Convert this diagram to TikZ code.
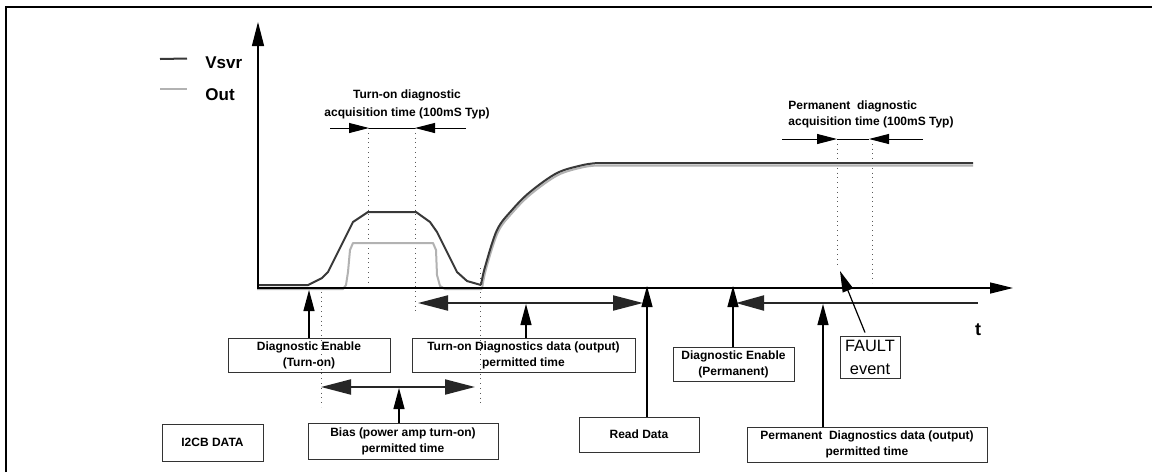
\documentclass[tikz,border=0pt]{standalone}
\usepackage{fontspec}
\setmainfont{Liberation Sans}
\usetikzlibrary{arrows.meta}
\begin{document}
\begin{tikzpicture}[x=0.5pt,y=-0.5pt,
  lbl/.style={font=\bfseries\fontsize{6}{9}\selectfont, align=center, inner sep=0},
  boxnode/.style={draw=black!80, line width=0.5pt, font=\bfseries\fontsize{6}{8}\selectfont, align=center, inner sep=0},
  faultbox/.style={draw=black!80, line width=0.5pt, font=\fontsize{8.2}{11.5}\selectfont, align=center, inner sep=0, minimum width=30pt, minimum height=21pt},
  legendtxt/.style={font=\bfseries\fontsize{8.5}{10}\selectfont, inner sep=0, anchor=west},
  axisline/.style={line width=0.65pt},
  vsvr/.style={draw=black!78, line width=1pt, line join=round},
  outw/.style={draw=black!30, line width=1pt, line join=round},
  guide/.style={draw=black!65, line width=0.4pt, dotted},
  dimline/.style={line width=0.5pt},
  dimtip/.style={dimline, -{Triangle[length=10pt,width=5pt]}},
  spanarr/.style={draw=black!85, line width=1pt},
  bigtip/.style={{Triangle[length=15pt,width=7.5pt]}-{Triangle[length=15pt,width=7.5pt]}},
  lefttip/.style={{Triangle[length=14pt,width=7.5pt]}-},
  uparr/.style={line width=0.6pt, -{Triangle[length=10.5pt,width=5.5pt]}}
]
\fill[white] (0,0) rectangle (1152,472);
\useasboundingbox (0,0) rectangle (1152,472);

% frame
\draw[line width=1.35pt] (6,472) -- (6,7) -- (1152,7);

% legend
\draw[vsvr] (160,59) -- (187,58.5);
\draw[outw] (160,89) -- (187,89);
\node[legendtxt] (lv) at (205,63) {Vsvr};
\node[legendtxt] (lo) at (205,95) {Out};

% guides (dotted)
\draw[guide] (321,287) -- (321,407);
\draw[guide] (368,128) -- (368,285);
\draw[guide] (415,128) -- (415,313);
\draw[guide] (480,268) -- (480,405);
\draw[guide] (837,139) -- (837,267);
\draw[guide] (872,139) -- (872,283);

% waveforms
\draw[outw] (257,289) -- (343,289) -- (346,285) -- (348,272) -- (350,250) -- (353,243)
  -- (433,243) -- (436,250) -- (437,275) -- (440,286) -- (445,289) -- (482,289)
  plot[smooth, tension=0.55] coordinates {(482,289) (486,269) (498,232) (513,212) (531,194) (558,175) (584,167) (599,165.5)}
  -- (973,165.5);
\draw[vsvr] (257,285) -- (308,285) -- (322,278) -- (328,272) -- (338,252) -- (348,232)
  -- (353,222) -- (368,212) -- (416,212) -- (430,222) -- (437,232) -- (447,252)
  -- (457,272) -- (467,281) -- (481,285)
  plot[smooth, tension=0.55] coordinates {(481,285) (485,267) (497,230) (512,210) (530,192) (557,173) (583,165) (598,163)}
  -- (973,163);

% axes
\coordinate (origin) at (257,288);
\coordinate (ytop) at (258,22);
\coordinate (xend) at (1013,288);
\draw[axisline, -{Triangle[length=12pt,width=6pt]}] (258,288) -- (ytop);
\draw[axisline, -{Triangle[length=11.5pt,width=5.5pt]}] (origin) -- (xend);
\node[font=\bfseries\fontsize{9}{10}\selectfont, inner sep=0] (tl) at (978,330) {t};

% acquisition time labels
\node[lbl] (ton) at (407,104) {Turn-on diagnostic\\acquisition time (100mS Typ)};
\coordinate (ta1) at (369,128);
\coordinate (ta2) at (415,128);
\draw[dimtip] (330,128) -- (ta1);
\draw[dimline] (ta1) -- (ta2);
\draw[dimtip] (466,128) -- (ta2);

\node[lbl, font=\bfseries\fontsize{6}{8}\selectfont, align=left, anchor=west] (pacq) at (788,114) {Permanent\ \ diagnostic\\acquisition time (100mS Typ)};
\coordinate (pa1) at (837,139);
\coordinate (pa2) at (869,139);
\draw[dimtip] (782,139) -- (pa1);
\draw[dimline] (pa1) -- (pa2);
\draw[dimtip] (923,139) -- (pa2);

% boxes
\node[boxnode, minimum width=81pt, minimum height=17pt] (dent) at (309,355) {Diagnostic Enable\\(Turn-on)};
\node[boxnode, minimum width=111.5pt, minimum height=17pt] (tdata) at (523.5,355) {Turn-on Diagnostics data (output)\\permitted time};
\node[boxnode, minimum width=60.5pt, minimum height=17pt] (denp) at (733.5,364) {Diagnostic Enable\\(Permanent)};
\node[boxnode, minimum width=95pt, minimum height=18pt] (bias) at (403,441) {Bias (power amp turn-on)\\permitted time};
\node[boxnode, minimum width=50.5pt, minimum height=18.5pt] (i2cb) at (212.5,442.5) {I2CB DATA};
\node[boxnode, minimum width=60pt, minimum height=17.5pt] (read) at (639,434.5) {Read Data};
\node[boxnode, minimum width=120pt, minimum height=17.5pt] (perm) at (867,444.5) {Permanent\ \ Diagnostics data (output)\\permitted time};
\node[faultbox] (fault) at (870,357) {FAULT\\event};

% span arrows
\coordinate (sd1) at (418,303);
\coordinate (sd2) at (643,303);
\draw[spanarr, bigtip] (sd1) -- (sd2);
\coordinate (sb1) at (321,387);
\coordinate (sb2) at (475,387);
\draw[spanarr, bigtip] (sb1) -- (sb2);
\coordinate (sp1) at (736,303);
\coordinate (sp2) at (978,303);
\draw[spanarr, lefttip] (sp1) -- (sp2);

% pointer arrows
\coordinate (tDEnT) at (309,290);
\coordinate (tTData) at (526,304);
\coordinate (tBias) at (399,388);
\coordinate (tRead) at (647,286);
\coordinate (tDEnP) at (733,286);
\coordinate (tPerm) at (823,304);
\coordinate (tFault) at (840,271);
\draw[uparr] (tDEnT |- dent.north) -- (tDEnT);
\draw[uparr] (tTData |- tdata.north) -- (tTData);
\draw[uparr] (tBias |- bias.north) -- (tBias);
\draw[uparr] (tRead |- read.north) -- (tRead);
\draw[uparr] (tDEnP |- denp.north) -- (tDEnP);
\draw[uparr] (tPerm |- perm.north) -- (tPerm);
\draw[uparr] ([xshift=-2.5pt,yshift=1.5pt]fault.north) -- (tFault);
\end{tikzpicture}
\end{document}
